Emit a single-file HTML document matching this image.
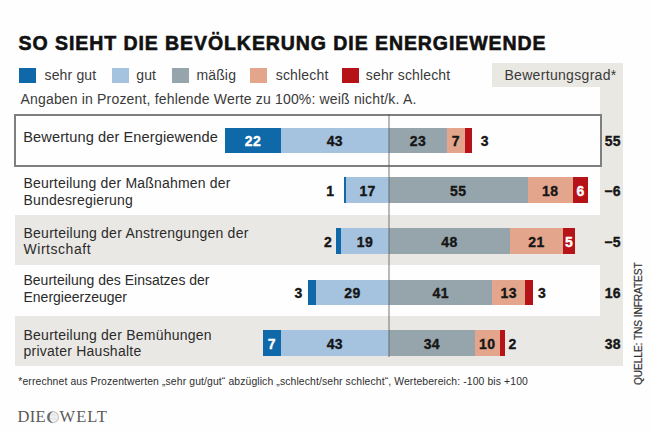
<!DOCTYPE html>
<html><head><meta charset="utf-8"><style>
html,body{margin:0;padding:0;}
body{width:650px;height:433px;position:relative;overflow:hidden;background:#fefefe;font-family:"Liberation Sans",sans-serif;}
.t,.r,.n{position:absolute;box-sizing:content-box;}
.t{white-space:nowrap;}
.n{font-weight:bold;-webkit-text-stroke:0.35px currentColor;letter-spacing:0.4px;white-space:nowrap;font-family:"Liberation Sans",sans-serif;}
</style></head><body>
<div class="r" style="left:492.30px;top:63.30px;width:130.70px;height:23.30px;background:#e9e8e3;"></div>
<div class="r" style="left:600.00px;top:86.60px;width:23.00px;height:279.40px;background:#e9e8e3;"></div>
<div class="r" style="left:14.50px;top:214.50px;width:585.50px;height:50.50px;background:#eae8e4;"></div>
<div class="r" style="left:14.50px;top:316.00px;width:585.50px;height:50.00px;background:#eae8e4;"></div>
<div class="r" style="left:14px;top:114px;width:583.5px;height:48.5px;border:2px solid #7f7f7f;background:#fefefe"></div>
<div class="t" style="left:18.60px;top:34.19px;font-size:19.5px;line-height:19.5px;font-weight:bold;color:#111111;letter-spacing:0.93px;font-family:'Liberation Sans', sans-serif;-webkit-text-stroke:0.6px #111;">SO SIEHT DIE BEVÖLKERUNG DIE ENERGIEWENDE</div>
<div class="r" style="left:19.00px;top:67.80px;width:17.30px;height:15.00px;background:#0f68a7;"></div>
<div class="t" style="left:44.50px;top:67.95px;font-size:14px;line-height:14px;font-weight:normal;color:#3a3a3a;letter-spacing:0.16px;font-family:'Liberation Sans', sans-serif;">sehr gut</div>
<div class="r" style="left:111.50px;top:67.80px;width:17.30px;height:15.00px;background:#a5c3df;"></div>
<div class="t" style="left:136.20px;top:67.95px;font-size:14px;line-height:14px;font-weight:normal;color:#3a3a3a;letter-spacing:0.16px;font-family:'Liberation Sans', sans-serif;">gut</div>
<div class="r" style="left:172.00px;top:67.80px;width:17.30px;height:15.00px;background:#96a5ab;"></div>
<div class="t" style="left:196.40px;top:67.95px;font-size:14px;line-height:14px;font-weight:normal;color:#3a3a3a;letter-spacing:0.16px;font-family:'Liberation Sans', sans-serif;">mäßig</div>
<div class="r" style="left:250.00px;top:67.80px;width:17.30px;height:15.00px;background:#e3a58c;"></div>
<div class="t" style="left:275.80px;top:67.95px;font-size:14px;line-height:14px;font-weight:normal;color:#3a3a3a;letter-spacing:0.16px;font-family:'Liberation Sans', sans-serif;">schlecht</div>
<div class="r" style="left:342.00px;top:67.80px;width:17.30px;height:15.00px;background:#b51318;"></div>
<div class="t" style="left:365.80px;top:67.95px;font-size:14px;line-height:14px;font-weight:normal;color:#3a3a3a;letter-spacing:0.16px;font-family:'Liberation Sans', sans-serif;">sehr schlecht</div>
<div class="t" style="left:504.40px;top:67.95px;font-size:14px;line-height:14px;font-weight:normal;color:#3a3a3a;letter-spacing:0.32px;font-family:'Liberation Sans', sans-serif;">Bewertungsgrad*</div>
<div class="t" style="left:20.50px;top:92.15px;font-size:14px;line-height:14px;font-weight:normal;color:#3a3a3a;letter-spacing:0.17px;font-family:'Liberation Sans', sans-serif;">Angaben in Prozent, fehlende Werte zu 100%: weiß nicht/k. A.</div>
<div class="t" style="left:23.30px;top:129.94px;font-size:14.6px;line-height:14.6px;font-weight:normal;color:#2b2b2b;letter-spacing:0.09px;font-family:'Liberation Sans', sans-serif;">Bewertung der Energiewende</div>
<div class="r" style="left:225.20px;top:127.50px;width:55.44px;height:25.30px;background:#0f68a7;"></div>
<div class="r" style="left:280.64px;top:127.50px;width:108.36px;height:25.30px;background:#a5c3df;"></div>
<div class="r" style="left:389.00px;top:127.50px;width:57.96px;height:25.30px;background:#96a5ab;"></div>
<div class="r" style="left:446.96px;top:127.50px;width:17.64px;height:25.30px;background:#e3a58c;"></div>
<div class="r" style="left:464.60px;top:127.50px;width:7.56px;height:25.30px;background:#b51318;"></div>
<div class="n" style="left:232.92px;top:133.85px;width:40px;text-align:center;font-size:14.0px;line-height:14.0px;color:#ffffff">22</div>
<div class="n" style="left:314.82px;top:133.85px;width:40px;text-align:center;font-size:14.0px;line-height:14.0px;color:#161616">43</div>
<div class="n" style="left:397.98px;top:133.85px;width:40px;text-align:center;font-size:14.0px;line-height:14.0px;color:#161616">23</div>
<div class="n" style="left:435.78px;top:133.85px;width:40px;text-align:center;font-size:14.0px;line-height:14.0px;color:#161616">7</div>
<div class="n" style="left:480.66px;top:133.85px;width:40px;text-align:left;font-size:14.0px;line-height:14.0px;color:#161616">3</div>
<div class="n" style="left:570px;top:133.85px;width:51px;text-align:right;font-size:14.0px;line-height:14.0px;color:#161616">55</div>
<div class="t" style="left:23.50px;top:175.85px;font-size:14.0px;line-height:14.0px;font-weight:normal;color:#2b2b2b;letter-spacing:0.19px;font-family:'Liberation Sans', sans-serif;">Beurteilung der Maßnahmen der</div>
<div class="t" style="left:23.50px;top:192.75px;font-size:14.0px;line-height:14.0px;font-weight:normal;color:#2b2b2b;letter-spacing:0.19px;font-family:'Liberation Sans', sans-serif;">Bundesregierung</div>
<div class="r" style="left:343.64px;top:177.30px;width:2.52px;height:25.30px;background:#0f68a7;"></div>
<div class="r" style="left:346.16px;top:177.30px;width:42.84px;height:25.30px;background:#a5c3df;"></div>
<div class="r" style="left:389.00px;top:177.30px;width:138.60px;height:25.30px;background:#96a5ab;"></div>
<div class="r" style="left:527.60px;top:177.30px;width:45.36px;height:25.30px;background:#e3a58c;"></div>
<div class="r" style="left:572.96px;top:177.30px;width:15.12px;height:25.30px;background:#b51318;"></div>
<div class="n" style="left:347.58px;top:183.65px;width:40px;text-align:center;font-size:14.0px;line-height:14.0px;color:#161616">17</div>
<div class="n" style="left:438.30px;top:183.65px;width:40px;text-align:center;font-size:14.0px;line-height:14.0px;color:#161616">55</div>
<div class="n" style="left:530.28px;top:183.65px;width:40px;text-align:center;font-size:14.0px;line-height:14.0px;color:#161616">18</div>
<div class="n" style="left:560.52px;top:183.65px;width:40px;text-align:center;font-size:14.0px;line-height:14.0px;color:#ffffff">6</div>
<div class="n" style="left:284.44px;top:183.65px;width:50.00px;text-align:right;font-size:14.0px;line-height:14.0px;color:#161616">1</div>
<div class="n" style="left:570px;top:183.65px;width:51px;text-align:right;font-size:14.0px;line-height:14.0px;color:#161616">−6</div>
<div class="t" style="left:23.50px;top:225.55px;font-size:14.0px;line-height:14.0px;font-weight:normal;color:#2b2b2b;letter-spacing:0.24px;font-family:'Liberation Sans', sans-serif;">Beurteilung der Anstrengungen der</div>
<div class="t" style="left:23.50px;top:242.15px;font-size:14.0px;line-height:14.0px;font-weight:normal;color:#2b2b2b;letter-spacing:0.54px;font-family:'Liberation Sans', sans-serif;">Wirtschaft</div>
<div class="r" style="left:336.08px;top:228.30px;width:5.04px;height:25.30px;background:#0f68a7;"></div>
<div class="r" style="left:341.12px;top:228.30px;width:47.88px;height:25.30px;background:#a5c3df;"></div>
<div class="r" style="left:389.00px;top:228.30px;width:120.96px;height:25.30px;background:#96a5ab;"></div>
<div class="r" style="left:509.96px;top:228.30px;width:52.92px;height:25.30px;background:#e3a58c;"></div>
<div class="r" style="left:562.88px;top:228.30px;width:12.60px;height:25.30px;background:#b51318;"></div>
<div class="n" style="left:345.06px;top:234.65px;width:40px;text-align:center;font-size:14.0px;line-height:14.0px;color:#161616">19</div>
<div class="n" style="left:429.48px;top:234.65px;width:40px;text-align:center;font-size:14.0px;line-height:14.0px;color:#161616">48</div>
<div class="n" style="left:516.42px;top:234.65px;width:40px;text-align:center;font-size:14.0px;line-height:14.0px;color:#161616">21</div>
<div class="n" style="left:549.18px;top:234.65px;width:40px;text-align:center;font-size:14.0px;line-height:14.0px;color:#ffffff">5</div>
<div class="n" style="left:277.28px;top:234.65px;width:55.00px;text-align:right;font-size:14.0px;line-height:14.0px;color:#161616">2</div>
<div class="n" style="left:570px;top:234.65px;width:51px;text-align:right;font-size:14.0px;line-height:14.0px;color:#161616">−5</div>
<div class="t" style="left:23.50px;top:273.35px;font-size:14.0px;line-height:14.0px;font-weight:normal;color:#2b2b2b;letter-spacing:0.0px;font-family:'Liberation Sans', sans-serif;">Beurteilung des Einsatzes der</div>
<div class="t" style="left:23.50px;top:289.95px;font-size:14.0px;line-height:14.0px;font-weight:normal;color:#2b2b2b;letter-spacing:0.0px;font-family:'Liberation Sans', sans-serif;">Energieerzeuger</div>
<div class="r" style="left:308.36px;top:279.60px;width:7.56px;height:25.30px;background:#0f68a7;"></div>
<div class="r" style="left:315.92px;top:279.60px;width:73.08px;height:25.30px;background:#a5c3df;"></div>
<div class="r" style="left:389.00px;top:279.60px;width:103.32px;height:25.30px;background:#96a5ab;"></div>
<div class="r" style="left:492.32px;top:279.60px;width:32.76px;height:25.30px;background:#e3a58c;"></div>
<div class="r" style="left:525.08px;top:279.60px;width:7.56px;height:25.30px;background:#b51318;"></div>
<div class="n" style="left:332.46px;top:285.95px;width:40px;text-align:center;font-size:14.0px;line-height:14.0px;color:#161616">29</div>
<div class="n" style="left:420.66px;top:285.95px;width:40px;text-align:center;font-size:14.0px;line-height:14.0px;color:#161616">41</div>
<div class="n" style="left:488.70px;top:285.95px;width:40px;text-align:center;font-size:14.0px;line-height:14.0px;color:#161616">13</div>
<div class="n" style="left:247.66px;top:285.95px;width:55.00px;text-align:right;font-size:14.0px;line-height:14.0px;color:#161616">3</div>
<div class="n" style="left:537.94px;top:285.95px;width:40px;text-align:left;font-size:14.0px;line-height:14.0px;color:#161616">3</div>
<div class="n" style="left:570px;top:285.95px;width:51px;text-align:right;font-size:14.0px;line-height:14.0px;color:#161616">16</div>
<div class="t" style="left:23.50px;top:327.55px;font-size:14.0px;line-height:14.0px;font-weight:normal;color:#2b2b2b;letter-spacing:0.24px;font-family:'Liberation Sans', sans-serif;">Beurteilung der Bemühungen</div>
<div class="t" style="left:23.50px;top:343.95px;font-size:14.0px;line-height:14.0px;font-weight:normal;color:#2b2b2b;letter-spacing:0.24px;font-family:'Liberation Sans', sans-serif;">privater Haushalte</div>
<div class="r" style="left:263.00px;top:330.30px;width:17.64px;height:25.30px;background:#0f68a7;"></div>
<div class="r" style="left:280.64px;top:330.30px;width:108.36px;height:25.30px;background:#a5c3df;"></div>
<div class="r" style="left:389.00px;top:330.30px;width:85.68px;height:25.30px;background:#96a5ab;"></div>
<div class="r" style="left:474.68px;top:330.30px;width:25.20px;height:25.30px;background:#e3a58c;"></div>
<div class="r" style="left:499.88px;top:330.30px;width:5.04px;height:25.30px;background:#b51318;"></div>
<div class="n" style="left:251.82px;top:336.65px;width:40px;text-align:center;font-size:14.0px;line-height:14.0px;color:#ffffff">7</div>
<div class="n" style="left:314.82px;top:336.65px;width:40px;text-align:center;font-size:14.0px;line-height:14.0px;color:#161616">43</div>
<div class="n" style="left:411.84px;top:336.65px;width:40px;text-align:center;font-size:14.0px;line-height:14.0px;color:#161616">34</div>
<div class="n" style="left:467.28px;top:336.65px;width:40px;text-align:center;font-size:14.0px;line-height:14.0px;color:#161616">10</div>
<div class="n" style="left:508.62px;top:336.65px;width:40px;text-align:left;font-size:14.0px;line-height:14.0px;color:#161616">2</div>
<div class="n" style="left:570px;top:336.65px;width:51px;text-align:right;font-size:14.0px;line-height:14.0px;color:#161616">38</div>
<div class="r" style="left:388.20px;top:114.00px;width:1.40px;height:243.00px;background:rgba(90,90,90,0.42);"></div>
<div class="t" style="left:18.30px;top:377.20px;font-size:10.4px;line-height:10.4px;font-weight:normal;color:#2e2e2e;letter-spacing:0.115px;font-family:'Liberation Sans', sans-serif;">*errechnet aus Prozentwerten „sehr gut/gut“ abzüglich „schlecht/sehr schlecht“, Wertebereich: -100 bis +100</div>
<div class="t" style="left:0;top:0;transform-origin:0 0;transform:translate(634.2px,385px) rotate(-90deg);font-size:10.2px;line-height:10.2px;color:#333;letter-spacing:-0.1px;-webkit-text-stroke:0.2px #333">QUELLE: TNS INFRATEST</div>
<div class="t" style="left:17.6px;top:408.2px;font-family:'Liberation Serif',serif;font-size:16.5px;line-height:18px;color:#5a5a5a;letter-spacing:0.3px">DIE</div>
<svg class="r" style="left:45.5px;top:409.5px" width="14" height="14" viewBox="0 0 14 14"><circle cx="6.8" cy="7.2" r="5.6" fill="#f1f1f1" stroke="#c4c4c4" stroke-width="1.1"/><path d="M6.8 1.6 A5.6 5.6 0 0 0 6.8 12.8 A6.5 6.5 0 0 1 6.8 1.6 Z" fill="#6a6a6a"/><path d="M4 5 Q7 3.5 10 6 M3.5 9 Q7 7 10.5 9.5" stroke="#d8d8d8" stroke-width="0.7" fill="none"/></svg>
<div class="t" style="left:59.6px;top:408.2px;font-family:'Liberation Serif',serif;font-size:16.5px;line-height:18px;color:#5a5a5a;letter-spacing:1.0px">WELT</div>
</body></html>
